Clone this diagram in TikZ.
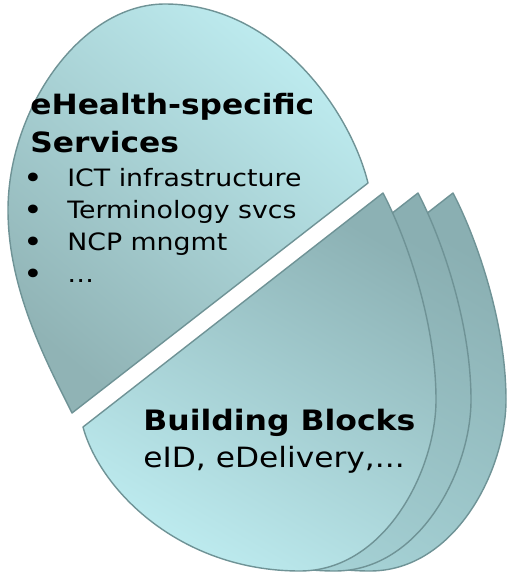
\documentclass[tikz,border=0pt]{standalone}
\usepackage{fontspec}
\setmainfont[FakeStretch=1.12]{DejaVu Sans}
\definecolor{rimcol}{HTML}{6F9396}
\definecolor{uptop}{HTML}{BEECF0}
\definecolor{upbot}{HTML}{90B3B5}
\definecolor{fronttop}{HTML}{8CB1B4}
\definecolor{frontbot}{HTML}{BDEBEF}
\definecolor{backtop}{HTML}{8AAFB2}
\definecolor{backbot}{HTML}{A8D5D9}
\tikzset{
  piece/.style={draw=rimcol,line width=.8pt,line join=round},
  head/.style={anchor=base west,inner sep=0pt,font=\bfseries\fontsize{15.9}{19}\selectfont},
  item/.style={anchor=base west,inner sep=0pt,font=\fontsize{13.6}{16}\selectfont},
  bbtext/.style={anchor=base west,inner sep=0pt,font=\fontsize{15.9}{19}\selectfont},
}
\begin{document}
\begin{tikzpicture}[x=0.02cm,y=-0.02cm]
  \useasboundingbox (0,0) rectangle (512,577);
  % building blocks, three stacked
  \foreach \dx/\tc/\bc in {70/backtop/backbot,35/backtop/backbot,0/fronttop/frontbot}{
    \shadedraw[piece,shift={(\dx,0)},top color=\tc,bottom color=\bc,shading angle=-30]
      (83,427) .. controls (100,490) and (180,571) .. (300,571)
      .. controls (385,571) and (436,470) .. (436,400)
      .. controls (436,320) and (405,235) .. (383,193) -- cycle;
  }
  % eHealth services half
  \shadedraw[piece,top color=uptop,bottom color=upbot,shading angle=-40]
    (72,413) .. controls (47,363) and (8,290) .. (8,210)
    .. controls (8,110) and (80,4) .. (165,4)
    .. controls (275,4) and (350,110) .. (368,183) -- cycle;
  \node[head] (title) at (30,115) {eHealth-specific};
  \node[head] (services) at (30,153) {Services};
  \foreach \txt [count=\i] in {ICT infrastructure,Terminology svcs,NCP mngmt,\dots}{
    \node[item,anchor=base,font=\fontsize{17}{19}\selectfont] (dot\i) at (33,157.3+31.7*\i) {•};
    \node[item] (item\i) at (67,155.3+31.7*\i) {\txt};
  }
  \node[head,font=\bfseries\fontsize{16}{19}\selectfont] (blocks) at (143,430) {Building Blocks};
  \node[bbtext] (bbitems) at (143,467) {eID, eDelivery,...};
\end{tikzpicture}
\end{document}
